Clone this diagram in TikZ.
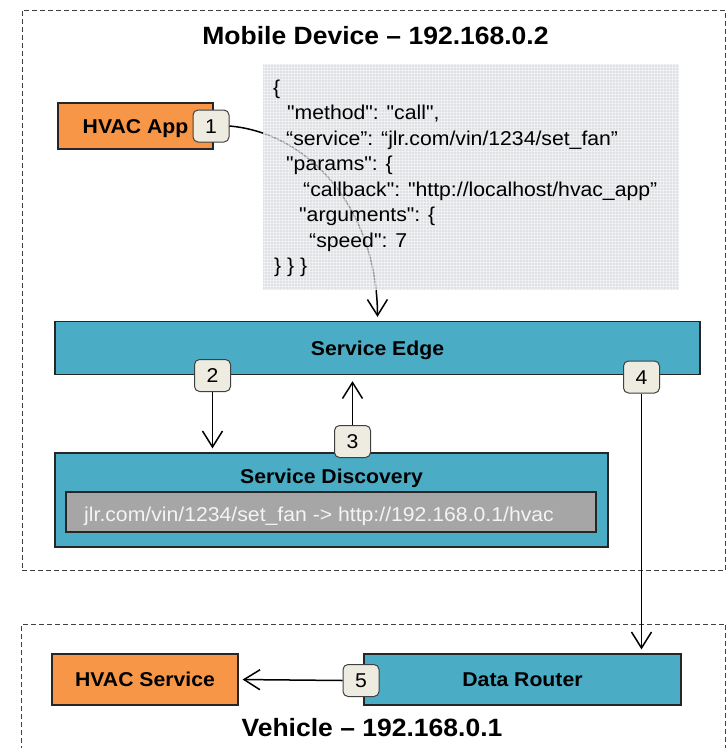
\documentclass[tikz,border=0pt]{standalone}
\usepackage{fontspec}
\setmainfont{Liberation Sans}[FakeStretch=1.06]
% payload text keeps its straight quotes
\newfontfamily\codefont{Liberation Sans}[FakeStretch=1.06, Ligatures=TeXOff]
\usetikzlibrary{arrows.meta,patterns}

\definecolor{tealbox}{HTML}{4BACC6}
\definecolor{orangebox}{HTML}{F79646}
\definecolor{badgefill}{HTML}{EEECE1}
\definecolor{jsonbg}{HTML}{D2D5D9}
\definecolor{barfill}{HTML}{A6A6A6}
\definecolor{bartext}{HTML}{F4F4F4}

\tikzset{
  zone/.style={draw=black!75, line width=1pt, dash pattern=on 5pt off 3pt,
    inner sep=0pt},
  zonetitle/.style={anchor=base, inner sep=0pt,
    font=\fontsize{25}{30}\selectfont\bfseries},
  box/.style={draw=black!85, line width=1.2pt, inner sep=0pt,
    text height=14.4pt, text depth=0pt,
    font=\fontsize{20}{24}\selectfont\bfseries},
  tealbox/.style={box, fill=tealbox},
  orangebox/.style={box, fill=orangebox},
  badge/.style={draw=black!75, fill=badgefill, rounded corners=5pt,
    line width=1pt, minimum width=36pt, minimum height=32pt, inner sep=0pt,
    text height=14.3pt, text depth=0pt, font=\fontsize{20}{24}\selectfont},
  codeline/.style={anchor=base west, inner sep=0pt,
    font=\fontsize{20}{24}\selectfont\codefont},
  flow/.style={line width=1.5pt, draw=black,
    -{Straight Barb[length=16pt,width=20pt,line width=1.5pt]}},
}

\begin{document}
\begin{tikzpicture}[x=1pt,y=-1pt]
\useasboundingbox (0,0) rectangle (727,748);

% network zones
\node[zone, minimum width=703.5pt, minimum height=560pt] (mobile) at (373.75,290) {};
\node[zonetitle] (mobiletitle) at (375.5,44) {Mobile Device -- 192.168.0.2};
\node[zone, minimum width=704pt, minimum height=150pt] (vehicle) at (373.5,699) {};
\node[zonetitle] (vehicletitle) at (372,736) {Vehicle -- 192.168.0.1};

% client application and the service edge it talks to
\node[orangebox, minimum width=155pt, minimum height=46pt] (app) at (135.5,126) {HVAC App};
\node[badge] (b1) at (211,126) {1};
\node[tealbox, minimum width=645pt, minimum height=53pt] (edge) at (377.5,348) {Service Edge};

% request travelling to the service edge
\draw[flow] (b1.east) .. controls (310,133) and (377,210) .. ([yshift=4pt]edge.north);

% JSON-RPC payload, laid over the request curve
\node[fill=jsonbg, fill opacity=0.72, minimum width=416pt, minimum height=226pt,
  inner sep=0pt] (payload) at (471,177) {};
\fill[pattern=grid, pattern color=white, opacity=0.45]
  (payload.south west) rectangle (payload.north east);
\node[codeline] (j0) at (273,94)    {\{};
\node[codeline] (j1) at (287,119.5) {"method": "call",};
\node[codeline] (j2) at (286,145)   {“service”: “jlr.com/vin/1234/set\_fan”};
\node[codeline] (j3) at (286,170.5) {"params": \{};
\node[codeline] (j4) at (303,196)   {“callback": "http://localhost/hvac\_app”};
\node[codeline] (j5) at (299,221.5) {"arguments": \{};
\node[codeline] (j6) at (309,247)   {“speed": 7};
\node[codeline] (j7) at (274,272.5) {\} \} \}};

% service discovery with its routing entry
\node[tealbox, minimum width=553pt, minimum height=94pt] (disc) at (331.5,500) {};
\node[anchor=base, inner sep=0pt, font=\fontsize{20}{24}\selectfont\bfseries]
  (disctitle) at (331.5,483) {Service Discovery};
\node[draw=black!85, line width=1.2pt, fill=barfill, minimum width=530pt,
  minimum height=40pt, inner sep=0pt] (route) at (331,512) {};
\node[codeline, text=bartext] (routetext) at (84,521)
  {jlr.com/vin/1234/set\_fan -> http://192.168.0.1/hvac};

% vehicle-side services
\node[orangebox, minimum width=186pt, minimum height=51pt] (hvacsvc) at (145,679.5) {HVAC Service};
\node[tealbox, minimum width=317pt, minimum height=51pt] (router) at (522.5,679.5) {Data Router};

% step badges
\node[badge] (b2) at (212.5,375.5) {2};
\node[badge] (b3) at (352.5,441.5) {3};
\node[badge] (b4) at (641.5,377) {4};
\node[badge] (b5) at (361,680.5) {5};

% numbered steps
\draw[flow, shorten >=4pt] (b2.south) -- (b2.south |- disc.north);
\draw[flow, shorten >=6pt] (b3.north) -- (b3.north |- edge.south);
\draw[flow, shorten >=4pt] (b4.south) -- (b4.south |- router.north);
\draw[flow, shorten >=4pt] (b5.west) -- (hvacsvc.east);
\end{tikzpicture}
\end{document}
